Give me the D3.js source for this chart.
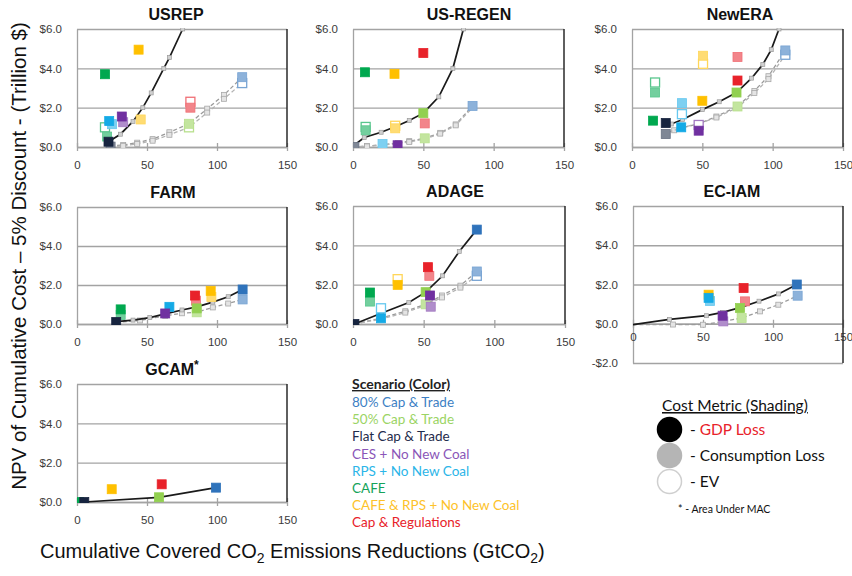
<!DOCTYPE html>
<html>
<head>
<meta charset="utf-8">
<script src="https://cdn.jsdelivr.net/npm/d3@7"></script>
<style>
  html, body { margin: 0; padding: 0; background: #fff; }
  svg { display: block; }
</style>
</head>
<body>
<svg id="chart" width="852" height="576"></svg>
<script>
// ---- Scenarios (colour) and cost metrics (shading) ----
const scenarioKeys   = ["ct80", "ct50", "flat", "ces", "rps", "cafe", "cafeRps", "capReg"];
const scenarioLabels = ["80% Cap & Trade", "50% Cap & Trade", "Flat Cap & Trade", "CES + No New Coal",
                        "RPS + No New Coal", "CAFE", "CAFE & RPS + No New Coal", "Cap & Regulations"];
const scenarioColors = ["#2f73bb", "#92d050", "#17243f", "#7030a0", "#14aae6", "#00a84f", "#ffc000", "#e8222a"];
const legendTextColors = ["#3d7fc4", "#9bd464", "#1f2c4c", "#8a56b8", "#2bb5e8", "#16a35a", "#fdc22a", "#e8222a"];
const metricLabels = ["GDP Loss", "Consumption Loss", "EV"];

const yTicks = [0, 2, 4, 6];
const yTicksWithNeg = [-2, 0, 2, 4, 6];
const xTicks = [0, 50, 100, 150];

// ---- Per-model values: [scenario, metric, reduction GtCO2, NPV trillion $] ----
const usrepMarks = [
  ["cafe", "gdp", 20, 3.7], ["cafeRps", "gdp", 44, 4.95],
  ["ces", "cons", 33, 1.26], ["ces", "gdp", 32, 1.55],
  ["cafe", "ev", 20, 1.0], ["rps", "cons", 25, 1.16], ["rps", "gdp", 23, 1.32],
  ["cafe", "cons", 21.5, 0.53], ["cafeRps", "cons", 45.5, 1.4],
  ["flat", "cons", 24, 0.02], ["flat", "gdp", 22.5, 0.27],
  ["ct50", "ev", 80, 1.0], ["ct50", "cons", 80, 1.18],
  ["ct80", "ev", 118, 3.25], ["ct80", "cons", 118, 3.55],
  ["capReg", "ev", 81, 2.3], ["capReg", "cons", 81, 2.0]
];
const usrepGdpPath  = [[22.5, 0.27], [31, 0.65], [40, 1.3], [47, 2.0], [53, 2.75], [62, 4.0], [66, 4.55], [75.5, 6.0], [82, 7.2]];
const usrepConsPath = [[24, 0.05], [33, 0.1], [43, 0.22], [54, 0.4], [66, 0.75], [80, 1.18], [93, 1.95], [105, 2.65], [118, 3.55]];
const usrepEvPath   = [[24, 0.0], [33, 0.06], [43, 0.15], [54, 0.32], [66, 0.62], [80, 1.0], [93, 1.75], [105, 2.45], [118, 3.25]];

const usregenMarks = [
  ["capReg", "gdp", 50, 4.78], ["cafe", "gdp", 8.5, 3.8], ["cafeRps", "gdp", 29.5, 3.72],
  ["cafe", "ev", 9, 1.02], ["cafe", "cons", 9, 0.85],
  ["cafeRps", "ev", 30, 1.08], ["cafeRps", "cons", 30, 0.95],
  ["capReg", "cons", 51, 1.2], ["ct50", "gdp", 50, 1.72], ["ct50", "cons", 51, 0.44],
  ["rps", "cons", 21, 0.15], ["ces", "gdp", 31.7, 0.09],
  ["flat", "cons", 1, 0.0], ["ct80", "cons", 85, 2.09]
];
const usregenGdpPath  = [[0, 0.05], [8, 0.48], [20, 0.75], [30, 1.03], [40, 1.35], [50, 1.72], [61, 2.55], [71, 4.0], [78.5, 6.0], [82, 7.3]];
const usregenConsPath = [[0, 0.0], [10, 0.05], [21, 0.12], [32, 0.2], [40, 0.3], [51, 0.44], [62, 0.72], [73, 1.15], [85, 2.09]];
const usregenEvPath   = [[0, 0.0], [10, 0.03], [21, 0.1], [32, 0.17], [40, 0.26], [51, 0.4], [62, 0.68], [73, 1.1], [85, 2.0]];

const newEraMarks = [
  ["cafeRps", "ev", 50.5, 4.23], ["cafeRps", "cons", 50.5, 4.64], ["capReg", "cons", 75, 4.58],
  ["cafe", "ev", 16.4, 3.28], ["cafe", "cons", 16.4, 2.77],
  ["capReg", "gdp", 75, 3.38], ["ct50", "cons", 75, 2.06], ["ct50", "gdp", 74.3, 2.77],
  ["cafeRps", "gdp", 50, 2.35], ["rps", "ev", 35.5, 1.67], ["rps", "cons", 35.5, 2.23],
  ["cafe", "gdp", 15, 1.34], ["flat", "cons", 24, 0.66], ["flat", "gdp", 24, 1.22],
  ["rps", "gdp", 35, 1.0], ["ces", "ev", 47.4, 1.12], ["ces", "gdp", 47.4, 0.83],
  ["ct80", "ev", 109, 4.69], ["ct80", "cons", 109, 4.91]
];
const newEraGdpPath  = [[24, 1.22], [28, 1.17], [36, 1.4], [50, 1.9], [62, 2.3], [74.3, 2.77], [85, 3.5], [93, 4.2], [99, 4.95], [104.5, 6.0], [108, 7.0]];
const newEraConsPath = [[24, 0.66], [30, 0.85], [36, 0.98], [48, 1.2], [60, 1.55], [75, 2.06], [87, 2.85], [97, 3.6], [109, 4.91]];
const newEraEvPath   = [[26, 0.75], [36, 1.0], [48, 1.2], [60, 1.5], [75, 2.0], [87, 2.75], [97, 3.45], [109, 4.69]];

const farmMarks = [
  ["cafe", "cons", 31.2, 0.46], ["cafe", "gdp", 31.2, 0.75], ["flat", "gdp", 28, 0.1],
  ["rps", "gdp", 66, 0.88], ["ces", "gdp", 63, 0.54],
  ["capReg", "cons", 85, 1.2], ["capReg", "gdp", 84.3, 1.46],
  ["cafeRps", "cons", 96, 1.38], ["cafeRps", "gdp", 95.5, 1.7],
  ["ct50", "cons", 85.5, 0.6], ["ct50", "gdp", 85.5, 0.8],
  ["ct80", "cons", 118.3, 1.26], ["ct80", "gdp", 118.3, 1.77]
];
const farmGdpPath  = [[28, 0.12], [40, 0.2], [52, 0.33], [63, 0.52], [75, 0.72], [85.5, 0.88], [97, 1.12], [108, 1.4], [118.3, 1.77]];
const farmConsPath = [[28, 0.08], [45, 0.18], [63, 0.42], [75, 0.55], [85.5, 0.6], [97, 0.85], [108, 1.05], [118.3, 1.26]];

const adageMarks = [
  ["cafe", "cons", 12, 1.14], ["cafe", "gdp", 12, 1.6],
  ["cafeRps", "ev", 31.6, 2.28], ["cafeRps", "gdp", 31.6, 1.99],
  ["capReg", "cons", 54, 2.45], ["capReg", "gdp", 53, 2.89],
  ["ct50", "cons", 51.4, 1.0], ["ces", "cons", 55, 0.88],
  ["ct50", "gdp", 51.4, 1.62], ["ces", "gdp", 54.5, 1.45],
  ["rps", "ev", 19.8, 0.8], ["rps", "gdp", 19.8, 0.29],
  ["ct80", "ev", 87.6, 2.45], ["ct80", "cons", 87.6, 2.67], ["ct80", "gdp", 87.6, 4.8],
  ["flat", "gdp", 1, 0.0]
];
const adageGdpPath  = [[1, 0], [20, 0.55], [39.5, 1.09], [51.4, 1.62], [63.4, 2.45], [75.2, 3.69], [87.6, 4.8]];
const adageConsPath = [[1, 0], [20, 0.3], [37, 0.65], [51.4, 1.0], [63, 1.45], [76, 1.95], [87.6, 2.67]];
const adageEvPath   = [[1, 0], [20, 0.25], [37, 0.58], [51.4, 0.95], [63, 1.35], [76, 1.85], [87.6, 2.45]];

const ecIamMarks = [
  ["ct80", "cons", 117.6, 1.43], ["ct80", "gdp", 117, 2.0],
  ["capReg", "cons", 80, 1.14], ["capReg", "gdp", 79, 1.82],
  ["rps", "cons", 55, 1.16], ["cafeRps", "gdp", 54, 1.48], ["rps", "gdp", 54, 1.32],
  ["ct50", "cons", 77.6, 0.29], ["ct50", "gdp", 76.4, 0.8],
  ["ces", "cons", 64.5, 0.12], ["ces", "gdp", 64, 0.41]
];
const ecIamGdpPath  = [[0, -0.05], [26, 0.22], [52.4, 0.41], [64, 0.58], [76.4, 0.82], [90, 1.15], [104, 1.52], [117, 2.0]];
const ecIamConsPath = [[0, -0.05], [28.6, -0.04], [50, -0.05], [64.5, 0.12], [77.6, 0.29], [90.7, 0.63], [103.8, 0.97], [117.6, 1.43]];

const gcamMarks = [
  ["cafe", "gdp", 1.4, 0], ["flat", "gdp", 5.2, 0], ["cafeRps", "gdp", 24.8, 0.65],
  ["capReg", "gdp", 60.5, 0.9], ["ct50", "gdp", 58.6, 0.24], ["ct80", "gdp", 99.3, 0.73]
];
const gcamGdpPath = [[5.2, 0], [58.6, 0.24], [99.3, 0.73]];

// ---- Panel table (model, values, frame in px) ----
const panels = [
  { name: "USREP",    marks: usrepMarks,   gdp: usrepGdpPath,   dashed: [usrepConsPath, usrepEvPath],     yDomain: [0, 6],  frame: { left: 77,  right: 287, top: 29,  zero: 147, bottom: 147 }, titleX: 176 },
  { name: "US-REGEN", marks: usregenMarks, gdp: usregenGdpPath, dashed: [usregenConsPath, usregenEvPath], yDomain: [0, 6],  frame: { left: 353, right: 564, top: 29,  zero: 147, bottom: 147 }, titleX: 469 },
  { name: "NewERA",   marks: newEraMarks,  gdp: newEraGdpPath,  dashed: [newEraConsPath, newEraEvPath],   yDomain: [0, 6],  frame: { left: 632, right: 843, top: 29,  zero: 147, bottom: 147 }, titleX: 740 },
  { name: "FARM",     marks: farmMarks,    gdp: farmGdpPath,    dashed: [farmConsPath],                   yDomain: [0, 6],  frame: { left: 77,  right: 287, top: 207, zero: 324, bottom: 324 }, titleX: 173 },
  { name: "ADAGE",    marks: adageMarks,   gdp: adageGdpPath,   dashed: [adageConsPath, adageEvPath],     yDomain: [0, 6],  frame: { left: 353, right: 565, top: 206, zero: 324, bottom: 324 }, titleX: 455 },
  { name: "EC-IAM",   marks: ecIamMarks,   gdp: ecIamGdpPath,   dashed: [ecIamConsPath],                  yDomain: [-2, 6], frame: { left: 633, right: 843, top: 206, zero: 324, bottom: 363 }, titleX: 732 },
  { name: "GCAM",     marks: gcamMarks,    gdp: gcamGdpPath,    dashed: [],                               yDomain: [0, 6],  frame: { left: 77,  right: 287, top: 384, zero: 502, bottom: 502 }, titleX: 172, star: true }
];

const colorOf = k => scenarioColors[scenarioKeys.indexOf(k)];
const tint = (c, t) => d3.interpolateRgb(c, "#ffffff")(t);

const svg = d3.select("#chart");
const axisFont = "'Liberation Sans', Arial, sans-serif";

panels.forEach((p, i) => {
  const f = p.frame;
  const x = d3.scaleLinear().domain([0, 150]).range([f.left, f.right]);
  const y = d3.scaleLinear().domain(p.yDomain).range([f.bottom, f.top]);
  const g = svg.append("g").attr("class", "panel");
  const ticks = p.yDomain[0] < 0 ? yTicksWithNeg : yTicks;

  // gridlines
  g.append("g")
    .attr("transform", `translate(${f.left},0)`)
    .call(d3.axisLeft(y).tickValues(ticks).tickSize(-(f.right - f.left)).tickFormat(""))
    .call(a => a.select(".domain").remove())
    .call(a => a.selectAll("line").attr("stroke", "#a3a3a3").attr("stroke-width", 1.3));

  // y tick labels
  g.append("g")
    .attr("transform", `translate(${f.left},0)`)
    .call(d3.axisLeft(y).tickValues(ticks).tickSize(0).tickPadding(15)
      .tickFormat(d => (d < 0 ? "-$" : "$") + Math.abs(d).toFixed(1)))
    .call(a => a.select(".domain").attr("stroke", "#a3a3a3").attr("stroke-width", 1.3))
    .call(a => a.selectAll("text").attr("fill", "#3a3a3a").style("font-family", axisFont).style("font-size", "11.5px"));

  // x axis along the zero line
  const xAxis = g.append("g")
    .attr("transform", `translate(0,${y(0)})`)
    .call(d3.axisBottom(x).tickValues(xTicks).tickSize(0).tickPadding(p.yDomain[0] < 0 ? 9 : 14))
    .call(a => a.select(".domain").attr("stroke", "#a3a3a3").attr("stroke-width", 1.3))
    .call(a => a.selectAll("text").attr("fill", "#3a3a3a").style("font-family", axisFont).style("font-size", "11.5px"));
  xAxis.selectAll(".tick").append("line")
    .attr("y1", -4).attr("y2", 4).attr("stroke", "#a3a3a3").attr("stroke-width", 1.3);

  // right border of the plot area
  g.append("line")
    .attr("x1", f.right).attr("x2", f.right).attr("y1", f.top).attr("y2", f.bottom)
    .attr("stroke", "#2a2a2a").attr("stroke-width", 1.5);

  // clip for curves running off the top
  const clipId = "clip" + i;
  svg.append("clipPath").attr("id", clipId)
    .append("rect").attr("x", f.left).attr("y", f.top - 1)
    .attr("width", f.right - f.left).attr("height", f.bottom - f.top + 2);
  const plot = g.append("g").attr("clip-path", `url(#${clipId})`);

  const line = d3.line().x(d => x(d[0])).y(d => y(d[1]));

  p.dashed.forEach((path, k) => {
    plot.append("path").datum(path).attr("d", line)
      .attr("fill", "none").attr("stroke", k === 0 ? "#9a9a9a" : "#b3b3b3")
      .attr("stroke-width", 1.3).attr("stroke-dasharray", "4,2.5");
    plot.selectAll(null).data(path.slice(1, -1)).join("rect")
      .attr("x", d => x(d[0]) - 2.5).attr("y", d => y(d[1]) - 2.5)
      .attr("width", 5).attr("height", 5)
      .attr("fill", "#e4e4e4").attr("stroke", "#a8a8a8").attr("stroke-width", 0.8);
  });

  plot.append("path").datum(p.gdp).attr("d", line)
    .attr("fill", "none").attr("stroke", "#1a1a1a").attr("stroke-width", 1.7);
  plot.selectAll(null).data(p.gdp.slice(1, -1)).join("rect")
    .attr("x", d => x(d[0]) - 2).attr("y", d => y(d[1]) - 2)
    .attr("width", 4).attr("height", 4)
    .attr("fill", "#d0d0d0").attr("stroke", "#9a9a9a").attr("stroke-width", 0.7);

  // scenario markers: solid = GDP loss, pale = consumption loss, outline = EV
  const s = 9;
  plot.selectAll(null).data(p.marks).join("rect")
    .attr("x", d => x(d[2]) - s / 2).attr("y", d => y(d[3]) - s / 2)
    .attr("width", s).attr("height", s)
    .attr("fill", d => d[1] === "gdp" ? colorOf(d[0]) : d[1] === "cons" ? tint(colorOf(d[0]), 0.45) : "#ffffff")
    .attr("stroke", d => d[1] === "gdp" ? colorOf(d[0]) : tint(colorOf(d[0]), 0.35))
    .attr("stroke-width", d => d[1] === "ev" ? 1.3 : 0.8);

  // title
  const t = svg.append("text")
    .attr("x", p.titleX).attr("y", f.top - 9)
    .attr("text-anchor", "middle")
    .style("font-family", axisFont).style("font-weight", "bold").style("font-size", "16px")
    .attr("fill", "#111")
    .text(p.name);
  if (p.star) {
    t.append("tspan").attr("dy", -6).style("font-size", "12px").text("*");
  }
});

// ---- axis titles ----
svg.append("text")
  .attr("transform", "translate(26,256) rotate(-90)")
  .attr("text-anchor", "middle")
  .style("font-family", axisFont).style("font-size", "20.5px").attr("fill", "#111")
  .text("NPV of Cumulative Cost \u2013 5% Discount - (Trillion $)");

const xt = svg.append("text")
  .attr("x", 40).attr("y", 558)
  .style("font-family", axisFont).style("font-size", "20px").attr("fill", "#111");
xt.append("tspan").text("Cumulative Covered CO");
xt.append("tspan").attr("dy", 5).style("font-size", "14px").text("2");
xt.append("tspan").attr("dy", -5).text(" Emissions Reductions (GtCO");
xt.append("tspan").attr("dy", 5).style("font-size", "14px").text("2");
xt.append("tspan").attr("dy", -5).text(")");

// ---- scenario legend ----
const legFont = "Lato, 'Open Sans', sans-serif";
const leg1 = svg.append("g");
leg1.append("text").attr("x", 352).attr("y", 389)
  .style("font-family", legFont).style("font-size", "14px").style("font-weight", "bold").attr("fill", "#222")
  .attr("text-decoration", "underline")
  .text("Scenario (Color)");
leg1.selectAll(null).data(scenarioLabels).join("text")
  .attr("x", 352).attr("y", (d, i) => 407 + i * 17.2)
  .style("font-family", legFont).style("font-size", "13.5px")
  .attr("fill", (d, i) => legendTextColors[i])
  .text(d => d);

// ---- cost metric legend ----
const leg2 = svg.append("g");
leg2.append("text").attr("x", 662).attr("y", 411)
  .style("font-family", legFont).style("font-size", "15.5px").attr("fill", "#111")
  .attr("text-decoration", "underline")
  .text("Cost Metric (Shading)");
const metricFill = ["#000000", "#b5b5b5", "#ffffff"];
const metricStroke = ["#000000", "#b5b5b5", "#cfcfcf"];
const metricText = ["#e8222a", "#111", "#111"];
metricLabels.forEach((m, i) => {
  const cy = 429.5 + i * 26;
  leg2.append("circle").attr("cx", 669.5).attr("cy", cy).attr("r", 12)
    .attr("fill", metricFill[i]).attr("stroke", metricStroke[i]).attr("stroke-width", 1.5);
  const tx = leg2.append("text").attr("x", 690).attr("y", cy + 5.5)
    .style("font-family", legFont).style("font-size", "15.5px").attr("fill", "#111");
  tx.append("tspan").text("-  ");
  tx.append("tspan").attr("fill", metricText[i]).text(m);
});
leg2.append("text").attr("x", 678).attr("y", 513)
  .style("font-family", legFont).style("font-size", "10.5px").attr("fill", "#111")
  .text("* - Area Under MAC");
</script>
</body>
</html>
